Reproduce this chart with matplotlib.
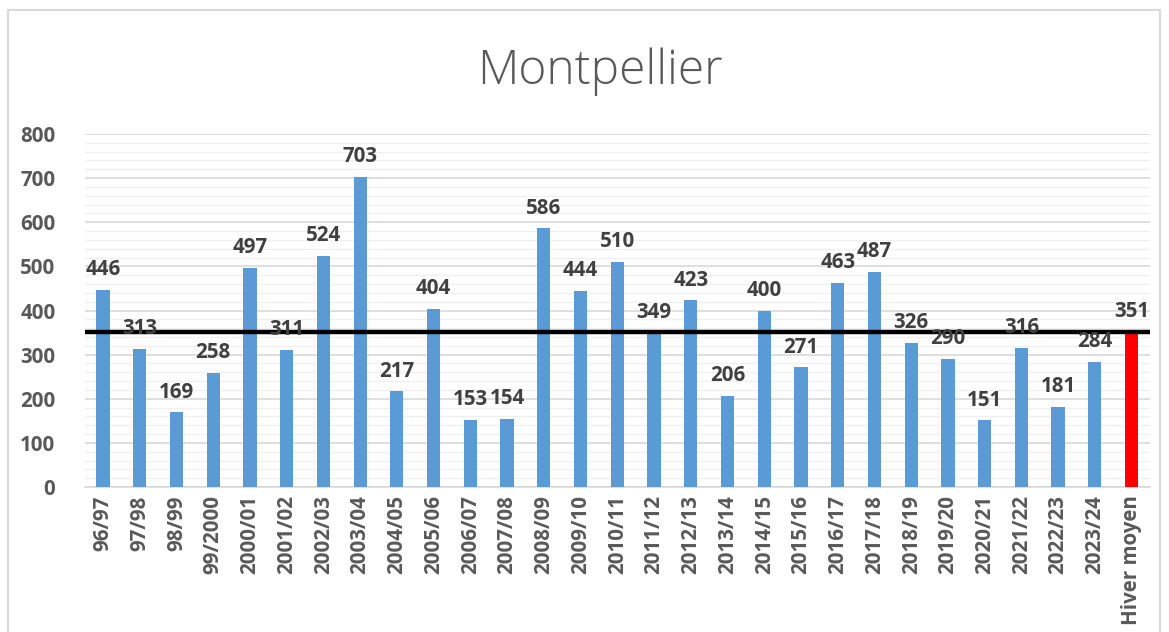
import matplotlib
matplotlib.use("Agg")
import matplotlib.pyplot as plt
from matplotlib.patches import Rectangle
from matplotlib.ticker import MultipleLocator

seasons = ["96/97", "97/98", "98/99", "99/2000", "2000/01", "2001/02", "2002/03",
           "2003/04", "2004/05", "2005/06", "2006/07", "2007/08", "2008/09",
           "2009/10", "2010/11", "2011/12", "2012/13", "2013/14", "2014/15",
           "2015/16", "2016/17", "2017/18", "2018/19", "2019/20", "2020/21",
           "2021/22", "2022/23", "2023/24", "Hiver moyen"]
values = [446, 313, 169, 258, 497, 311, 524, 703, 217, 404, 153, 154, 586,
          444, 510, 349, 423, 206, 400, 271, 463, 487, 326, 290, 151, 316,
          181, 284, 351]
average = 351

plt.rcParams['font.family'] = ['Open Sans', 'DejaVu Sans']

fig = plt.figure(figsize=(11.69, 6.32), dpi=100)
fig.patches.append(Rectangle((8/1169, -0.1), (1160-8)/1169, 1.1 - 10/632,
                             transform=fig.transFigure, fill=False,
                             edgecolor='#d9d9d9', linewidth=1.5))

ax = fig.add_axes([0.0724, 0.2294, 0.9113, 0.5586])
x = list(range(len(values)))
colors = ['#5b9bd5'] * (len(values) - 1) + ['#ff0000']
ax.bar(x, values, width=0.36, color=colors, zorder=3)

ax.axhline(average, color='black', linewidth=3.2, zorder=4)

for xi, v in zip(x, values):
    ax.annotate(str(v), (xi, v), xytext=(0, 7), textcoords='offset points',
                ha='center', va='bottom', fontsize=14.8, fontweight='bold',
                color='#404040', zorder=5)

ax.set_ylim(0, 800)
ax.set_xlim(-0.5, len(values) - 0.5)
ax.yaxis.set_major_locator(MultipleLocator(100))
ax.yaxis.set_minor_locator(MultipleLocator(20))
ax.grid(axis='y', which='major', color='#d9d9d9', linewidth=1.2, zorder=0)
ax.grid(axis='y', which='minor', color='#f0f0f0', linewidth=1.0, zorder=0)
ax.set_xticks(x)
ax.set_xticklabels(seasons, rotation=90, fontsize=14.8, fontweight='bold', color='#595959')
for lab in ax.get_yticklabels():
    lab.set_fontsize(14.8)
    lab.set_fontweight('bold')
    lab.set_color('#595959')
ax.tick_params(axis='both', which='both', length=0)
ax.tick_params(axis='y', pad=21)
ax.tick_params(axis='x', pad=6)
for s in ['top', 'right', 'left']:
    ax.spines[s].set_visible(False)
ax.spines['bottom'].set_color('#d9d9d9')
ax.spines['bottom'].set_linewidth(1.2)

fig.text(600/1169, 1 - 72/632, "Montpellier", ha='center', va='center',
         fontsize=34.5, fontweight='light', color='#595959')

fig.savefig("out.png", dpi=100)
